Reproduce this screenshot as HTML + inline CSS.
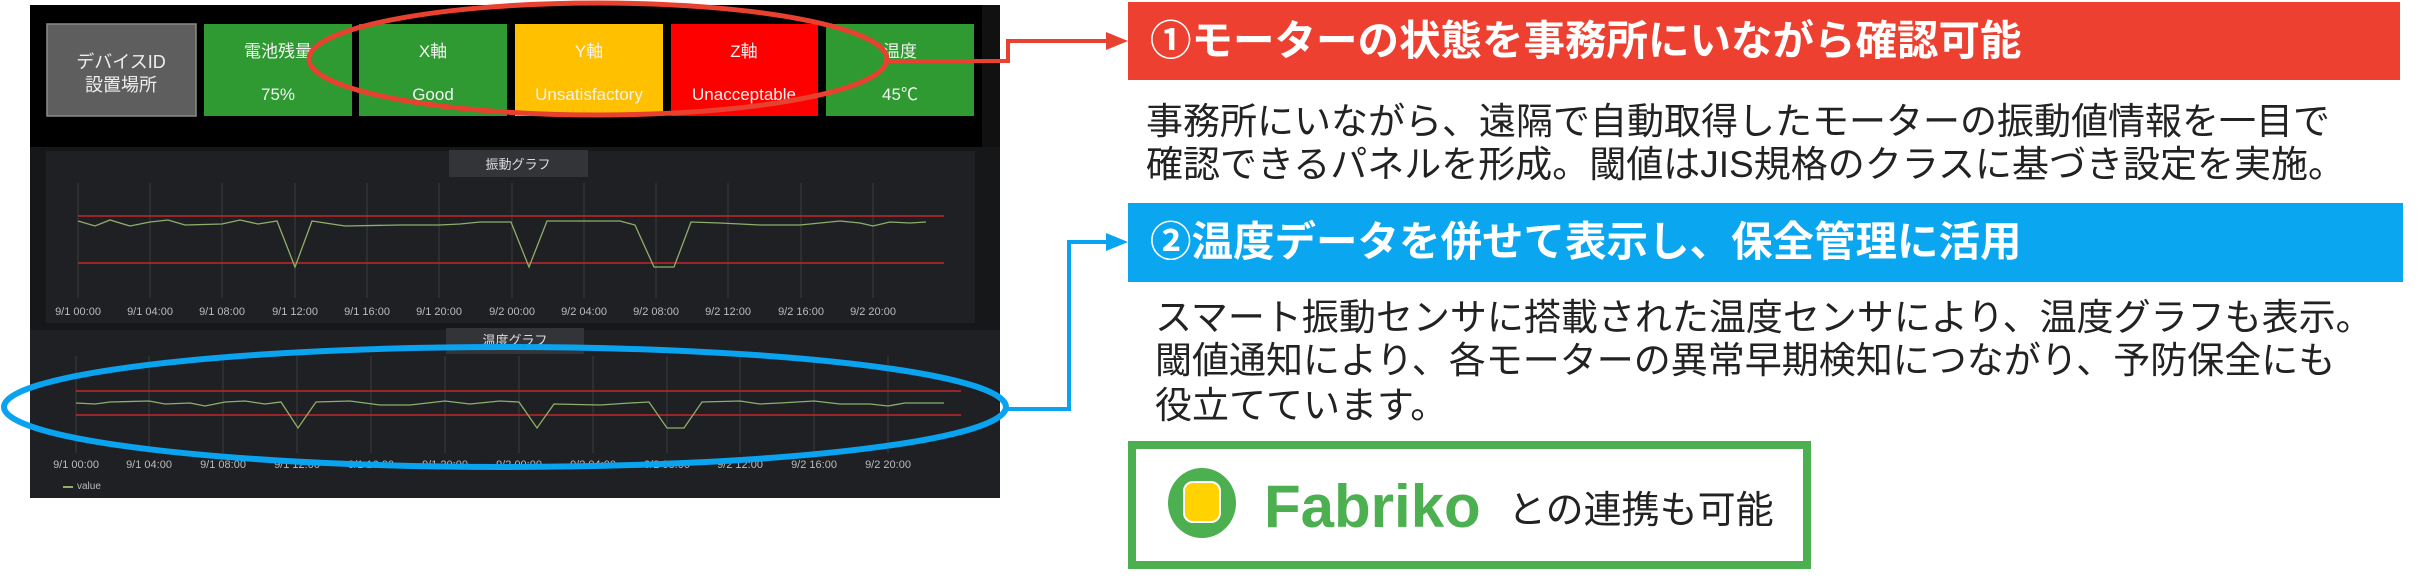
<!DOCTYPE html>
<html><head><meta charset="utf-8"><style>
html,body{margin:0;padding:0;background:#fff;width:2434px;height:585px;overflow:hidden}
svg{position:absolute;left:0;top:0}
.t{font-family:"Liberation Sans","Noto Sans CJK JP",sans-serif}
</style></head><body>
<svg width="2434" height="585" viewBox="0 0 2434 585" class="t">
<!-- dashboard -->
<rect x="30" y="5" width="970" height="493" fill="#161719"/>
<rect x="30" y="5" width="952" height="142" fill="#000"/>
<rect x="982" y="5" width="18" height="142" fill="#111"/>
<rect x="47" y="24" width="149" height="92" fill="#5e5e5e" stroke="#8a8a8a" stroke-width="1.5"/>
<text x="121" y="68" fill="#eee" font-size="18" text-anchor="middle">デバイスID</text>
<text x="121" y="91" fill="#eee" font-size="18" text-anchor="middle">設置場所</text>
<rect x="204" y="24" width="148" height="92" fill="#2f9a31"/>
<rect x="359" y="24" width="148" height="92" fill="#2f9a31"/>
<rect x="515" y="24" width="148" height="92" fill="#ffc000"/>
<rect x="671" y="24" width="147" height="92" fill="#ff0000"/>
<rect x="826" y="24" width="148" height="92" fill="#2f9a31"/>
<g fill="#f2f2f2" font-size="17" text-anchor="middle">
<text x="278" y="57">電池残量</text><text x="278" y="100">75%</text>
<text x="433" y="57">X軸</text><text x="433" y="100">Good</text>
<text x="589" y="57">Y軸</text><text x="589" y="100">Unsatisfactory</text>
<text x="744" y="57">Z軸</text><text x="744" y="100">Unacceptable</text>
<text x="900" y="57">温度</text><text x="900" y="100">45℃</text>
</g>
<!-- chart 1 -->
<rect x="46" y="151" width="929" height="172" fill="#1f2023"/>
<rect x="449" y="150" width="139" height="27" fill="#333437"/>
<text x="518" y="169" fill="#ddd" font-size="13" text-anchor="middle">振動グラフ</text>
<g stroke="#3a3b3e" stroke-width="1">
<line x1="78" y1="183" x2="78" y2="298"/><line x1="150" y1="183" x2="150" y2="298"/><line x1="222" y1="183" x2="222" y2="298"/><line x1="295" y1="183" x2="295" y2="298"/><line x1="367" y1="183" x2="367" y2="298"/><line x1="439" y1="183" x2="439" y2="298"/><line x1="512" y1="183" x2="512" y2="298"/><line x1="584" y1="183" x2="584" y2="298"/><line x1="656" y1="183" x2="656" y2="298"/><line x1="728" y1="183" x2="728" y2="298"/><line x1="801" y1="183" x2="801" y2="298"/><line x1="873" y1="183" x2="873" y2="298"/>
</g>
<line x1="78" y1="216" x2="944" y2="216" stroke="#c0282a" stroke-width="1.5"/>
<line x1="78" y1="263" x2="944" y2="263" stroke="#c0282a" stroke-width="1.5"/>
<polyline fill="none" stroke="#8fae6a" stroke-width="1.3" points="78,221 95,226 110,220 130,226 150,222 168,220 185,225 222,224 240,220 258,224 277,221 295,267 312,221 345,226 400,225 439,225 460,224 480,222 511,222 529,267 547,221 600,221 620,221 635,225 654,267 674,267 691,222 720,223 760,225 800,225 840,221 860,223 873,226 890,222 910,223 926,222"/>
<g fill="#bbb" font-size="11" text-anchor="middle">
<text x="78" y="315">9/1 00:00</text><text x="150" y="315">9/1 04:00</text><text x="222" y="315">9/1 08:00</text><text x="295" y="315">9/1 12:00</text><text x="367" y="315">9/1 16:00</text><text x="439" y="315">9/1 20:00</text><text x="512" y="315">9/2 00:00</text><text x="584" y="315">9/2 04:00</text><text x="656" y="315">9/2 08:00</text><text x="728" y="315">9/2 12:00</text><text x="801" y="315">9/2 16:00</text><text x="873" y="315">9/2 20:00</text>
</g>
<!-- chart 2 -->
<rect x="30" y="330" width="970" height="168" fill="#1f2023"/>
<rect x="446" y="328" width="138" height="26" fill="#333437"/>
<text x="515" y="345" fill="#ddd" font-size="13" text-anchor="middle">温度グラフ</text>
<g stroke="#3a3b3e" stroke-width="1">
<line x1="76" y1="356" x2="76" y2="453"/><line x1="149" y1="356" x2="149" y2="453"/><line x1="223" y1="356" x2="223" y2="453"/><line x1="297" y1="356" x2="297" y2="453"/><line x1="371" y1="356" x2="371" y2="453"/><line x1="445" y1="356" x2="445" y2="453"/><line x1="519" y1="356" x2="519" y2="453"/><line x1="593" y1="356" x2="593" y2="453"/><line x1="667" y1="356" x2="667" y2="453"/><line x1="740" y1="356" x2="740" y2="453"/><line x1="814" y1="356" x2="814" y2="453"/><line x1="888" y1="356" x2="888" y2="453"/>
</g>
<line x1="76" y1="391" x2="961" y2="391" stroke="#c0282a" stroke-width="1.5"/>
<line x1="76" y1="415" x2="961" y2="415" stroke="#c0282a" stroke-width="1.5"/>
<polyline fill="none" stroke="#8fae6a" stroke-width="1.3" points="76,403 95,404 110,402 149,401 165,404 190,403 205,406 225,402 245,401 265,404 281,402 298,428 316,402 350,401 380,405 410,405 445,401 470,404 500,401 519,402 537,428 554,404 600,405 630,403 649,402 667,428 684,428 702,402 740,401 760,404 780,403 814,401 840,404 870,404 888,406 905,403 944,403"/>
<g fill="#bbb" font-size="11" text-anchor="middle">
<text x="76" y="468">9/1 00:00</text><text x="149" y="468">9/1 04:00</text><text x="223" y="468">9/1 08:00</text><text x="297" y="468">9/1 12:00</text><text x="371" y="468">9/1 16:00</text><text x="445" y="468">9/1 20:00</text><text x="519" y="468">9/2 00:00</text><text x="593" y="468">9/2 04:00</text><text x="667" y="468">9/2 08:00</text><text x="740" y="468">9/2 12:00</text><text x="814" y="468">9/2 16:00</text><text x="888" y="468">9/2 20:00</text>
</g>
<rect x="63" y="486" width="10" height="2" fill="#8fae6a"/>
<text x="77" y="489" fill="#bbb" font-size="10">value</text>
<!-- ellipses & connectors -->
<ellipse cx="598" cy="59" rx="289" ry="56" fill="none" stroke="#e8412f" stroke-width="5"/>
<polyline fill="none" stroke="#e8412f" stroke-width="4" points="884,61 1008,61 1008,41 1112,41"/>
<polygon points="1106,32 1128,41 1106,50" fill="#e8412f"/>
<ellipse cx="505" cy="407" rx="501" ry="60" fill="none" stroke="#0aa3ef" stroke-width="6"/>
<polyline fill="none" stroke="#0aa3ef" stroke-width="4" points="1006,409 1069,409 1069,242 1112,242"/>
<polygon points="1106,233 1128,242 1106,251" fill="#0aa3ef"/>
<!-- right side -->
<rect x="1128" y="2" width="1272" height="78" fill="#ee4031"/>
<text x="1150" y="55" fill="#fff" font-size="41.5" font-weight="bold">①モーターの状態を事務所にいながら確認可能</text>
<g fill="#222" font-size="37">
<text x="1146" y="134">事務所にいながら、遠隔で自動取得したモーターの振動値情報を一目で</text>
<text x="1146" y="177">確認できるパネルを形成。閾値はJIS規格のクラスに基づき設定を実施。</text>
</g>
<rect x="1128" y="203" width="1275" height="79" fill="#0aa6ef"/>
<text x="1150" y="256" fill="#fff" font-size="41.5" font-weight="bold">②温度データを併せて表示し、保全管理に活用</text>
<g fill="#222" font-size="37">
<text x="1155" y="330">スマート振動センサに搭載された温度センサにより、温度グラフも表示。</text>
<text x="1155" y="373">閾値通知により、各モーターの異常早期検知につながり、予防保全にも</text>
<text x="1155" y="418">役立てています。</text>
</g>
<rect x="1132" y="445" width="675" height="120" fill="#fff" stroke="#4caf50" stroke-width="8"/>
<ellipse cx="1202" cy="503" rx="34" ry="35" fill="#4caf50"/>
<rect x="1184" y="482" width="36" height="40" rx="9" fill="#ffd200" stroke="#fff" stroke-width="2"/>
<text x="1264" y="527" fill="#4caf50" font-size="60" font-weight="bold">Fabriko</text>
<text x="1508" y="523" fill="#222" font-size="38">との連携も可能</text>
</svg>
</body></html>
